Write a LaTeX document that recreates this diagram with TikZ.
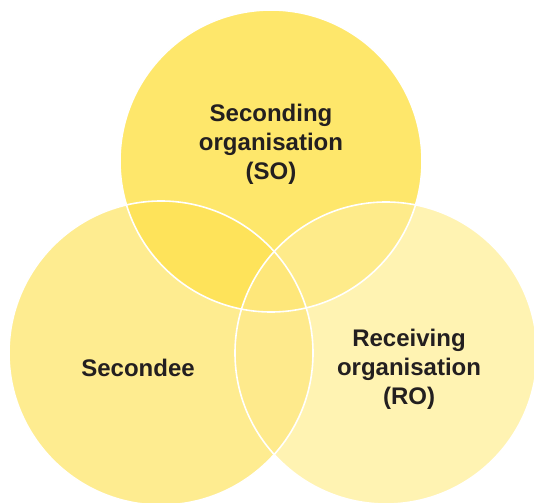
\documentclass[tikz,border=0pt]{standalone}
\usepackage{fontspec}
\setmainfont{Liberation Sans}
\definecolor{soFill}{HTML}{FEE76B}
\definecolor{sdFill}{HTML}{FEEC90}
\definecolor{roFill}{HTML}{FFF3B2}
\definecolor{soSdFill}{HTML}{FEE35A}
\definecolor{soRoFill}{HTML}{FEEB8A}
\definecolor{sdRoFill}{HTML}{FEEA8C}
\definecolor{allFill}{HTML}{FEE77A}
\definecolor{inkDark}{HTML}{231F20}
\tikzset{
  venn label/.style={font=\bfseries\fontsize{24}{29}\selectfont,text=inkDark,align=center},
  rim/.style={draw=white,line width=1.6pt}
}

\begin{document}
\begin{tikzpicture}[x=1pt,y=-1pt]
            \useasboundingbox (0,0) rectangle (534,502);
            \coordinate (so) at (271,161);
            \coordinate (sd) at (161,353);
            \coordinate (ro) at (386,353);
            % the three sets
            \fill[soFill] (so) circle (151pt);
            \fill[sdFill] (sd) circle (152pt);
            \fill[roFill] (ro) circle (151pt);
            % overlaps
            \begin{scope}
                \clip (sd) circle (152pt);
                \fill[sdRoFill] (ro) circle (151pt);
            \end{scope}
            \begin{scope}
                \clip (so) circle (151pt);
                \fill[soSdFill] (sd) circle (152pt);
                \fill[soRoFill] (ro) circle (151pt);
                \clip (sd) circle (152pt);
                \fill[allFill] (ro) circle (151pt);
            \end{scope}
            \draw[rim] (so) circle (151pt);
            \draw[rim] (sd) circle (152pt);
            \draw[rim] (ro) circle (151pt);
            \node[venn label] (soText) at (271,144.5) {Seconding\\organisation\\(SO)};
            \node[venn label] (sdText) at (138,367.5) {Secondee};
            \node[venn label] (roText) at (409,369.5) {Receiving\\organisation\\(RO)};
\end{tikzpicture}
\end{document}
